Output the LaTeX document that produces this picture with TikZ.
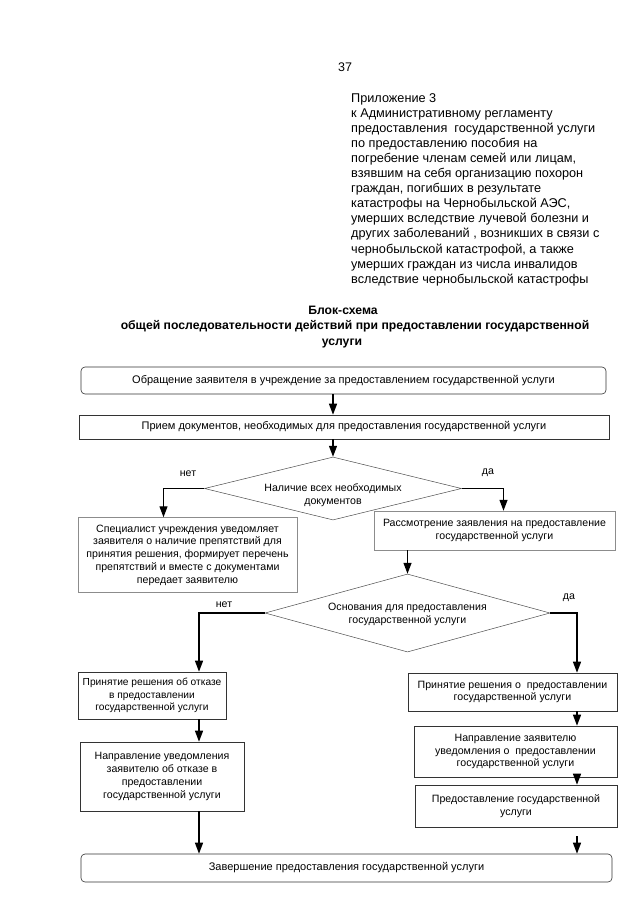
\documentclass[tikz,border=0pt]{standalone}
\usepackage{fontspec}
\setmainfont{Liberation Sans}
\usetikzlibrary{shapes.geometric,arrows.meta,calc}
\begin{document}
\begin{tikzpicture}[x=1pt,y=-1pt,
  boxtext/.style={font=\fontsize{10.6}{12.8}\selectfont},
  widetext/.style={font=\fontsize{11}{13}\selectfont},
  stepbox/.style={draw=black!80, line width=0.6pt, align=center, inner sep=0pt, boxtext},
  lightbox/.style={stepbox, draw=black!45, line width=0.5pt},
  roundbox/.style={stepbox, rounded corners=4pt},
  decision/.style={diamond, draw=black!70, line width=0.5pt, inner sep=0pt},
  dtext/.style={align=center, inner sep=0pt, boxtext},
  lbl/.style={boxtext, inner sep=0pt},
  ttl/.style={inner sep=0pt, font=\bfseries\fontsize{12.2}{14}\selectfont},
  arr/.style={line width=1.3pt, -{Triangle[length=11pt,width=8pt]}}
]
\useasboundingbox (0,0) rectangle (640,905);

\node[font=\fontsize{12.5}{15}\selectfont, inner sep=0pt] (pg) at (345,67) {37};

\node[anchor=north west, align=left, inner sep=0pt, font=\fontsize{12.7}{15.1}\selectfont] (head) at (351,93)
 {Приложение 3\\
  к Административному регламенту\\
  предоставления\ \ государственной услуги\\
  по предоставлению пособия на\\
  погребение членам семей или лицам,\\
  взявшим на себя организацию похорон\\
  граждан, погибших в результате\\
  катастрофы на Чернобыльской АЭС,\\
  умерших вследствие лучевой болезни и\\
  других заболеваний , возникших в связи с\\
  чернобыльской катастрофой, а также\\
  умерших граждан из числа инвалидов\\
  вследствие чернобыльской катастрофы};

\node[ttl] (title1) at (343,310) {Блок-схема};
\node[ttl] (title2) at (355,326) {общей последовательности действий при предоставлении государственной};
\node[ttl] (title3) at (342,343) {услуги};

\node[roundbox, widetext, minimum width=525pt, minimum height=27pt] (b1) at (343.5,380.5)
 {Обращение заявителя в учреждение за предоставлением государственной услуги};
\node[stepbox, widetext, minimum width=530pt, minimum height=24pt] (b2) at (344,427)
 {Прием документов, необходимых для предоставления государственной услуги};

\node[decision, minimum width=257pt, minimum height=63pt] (d1) at (333,488.5) {};
\node[dtext] (d1t) at (333,495) {Наличие всех необходимых\\документов};

\node[lightbox, minimum width=219pt, minimum height=75pt] (s1) at (187.5,555)
 {Специалист учреждения уведомляет\\заявителя о наличие препятствий для\\принятия решения, формирует перечень\\препятствий и вместе с документами\\передает заявителю};
\node[lightbox, minimum width=241pt, minimum height=39pt] (r1) at (494.5,530.5)
 {Рассмотрение заявления на предоставление\\государственной услуги};

\node[decision, minimum width=285pt, minimum height=78pt] (d2) at (407.5,613) {};
\node[dtext] (d2t) at (407.5,614) {Основания для предоставления\\государственной услуги};

\node[stepbox, font=\fontsize{10.2}{12.2}\selectfont, minimum width=148pt, minimum height=47pt] (L1) at (152,695.5)
 {Принятие решения об отказе\\в предоставлении\\государственной услуги};
\node[stepbox, minimum width=164pt, minimum height=69pt] (L2) at (162,776.5)
 {Направление уведомления\\заявителю об отказе в\\предоставлении\\государственной услуги};
\node[stepbox, minimum width=209pt, minimum height=38pt] (R1) at (512.5,692)
 {Принятие решения о\ \ предоставлении\\государственной услуги};
\node[stepbox, minimum width=203pt, minimum height=51pt] (R2) at (515.5,751.5)
 {Направление заявителю\\уведомления о\ \ предоставлении\\государственной услуги};
\node[stepbox, minimum width=202pt, minimum height=42pt] (R3) at (516,806)
 {Предоставление государственной\\услуги};
\node[roundbox, widetext, minimum width=531pt, minimum height=28pt] (fin) at (346.5,868)
 {Завершение предоставления государственной услуги};

\node[lbl] (n1) at (188,474) {нет};
\node[lbl] (y1) at (488,473) {да};
\node[lbl] (n2) at (224,605) {нет};
\node[lbl] (y2) at (569,598) {да};

\coordinate (cl) at (199,0);
\coordinate (cr) at (577,0);

\draw[arr] (b1.south -| d1.north) -- (b2.north -| d1.north);
\draw[arr] (b2.south -| d1.north) -- (d1.north);
\draw[arr] (d1.west) -| ($(s1.north)+(-24,0)$);
\draw[arr] (d1.east) -| ($(r1.north)+(9,0)$);
\draw[arr] (r1.south -| d2.north) -- (d2.north);
\draw[arr] (d2.west) -| (L1.north -| cl);
\draw[arr] (d2.east) -| (R1.north -| cr);
\draw[arr] (L1.south -| cl) -- (L2.north -| cl);
\draw[arr] (L2.south -| cl) -- (fin.north -| cl);
\draw[arr] (R1.south -| cr) -- (R2.north -| cr);
\draw[arr] (R2.south -| cr) -- (R3.north -| cr);
\draw[arr, shorten <=9pt] (R3.south -| cr) -- (fin.north -| cr);
\end{tikzpicture}
\end{document}
